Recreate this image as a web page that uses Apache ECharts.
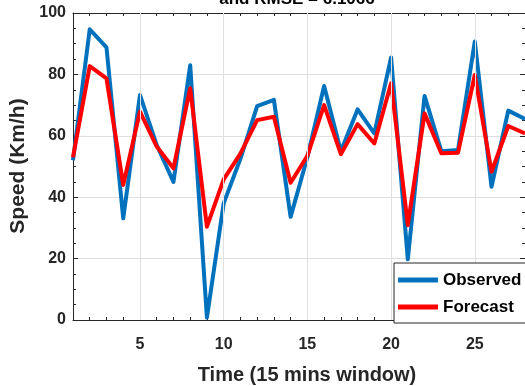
<!DOCTYPE html>
<html>
<head>
<meta charset="utf-8">
<script src="https://cdn.jsdelivr.net/npm/echarts@6/dist/echarts.min.js"></script>
<style>html,body{margin:0;padding:0;background:#fff}#c{width:525px;height:386px}</style>
</head>
<body>
<div id="c"></div>
<script>
const timeSteps = [1,2,3,4,5,6,7,8,9,10,11,12,13,14,15,16,17,18,19,20,21,22,23,24,25,26,27,28];
const observed = [52,94.7,88.8,33.1,73.3,57,45,83,0.8,38,52.5,69.7,71.7,33.6,53,76.2,55,68.6,60.8,85.5,19.8,73,55,55.4,90.7,43.4,68.2,65.5];
const forecast = [53,82.7,78.7,44,67.9,56.5,49.4,75.5,30.4,45.8,54.2,65.1,66.2,44.7,53.5,70,54,63.8,57.5,77.1,30.9,67.3,54.3,54.5,79.8,48.3,63.2,60.8];
const xTickLabels = [5,10,15,20,25];
const yTicks = [0,20,40,60,80,100];

const ink = '#262626';
const gridC = '#dfdfdf';
const font = 'Liberation Sans, Arial, sans-serif';

const chart = echarts.init(document.getElementById('c'), null, {renderer:'canvas'});
const minorX = timeSteps.slice();
function xAx(pos, major){
  return {
    type:'value', min:1, max:28, position:pos,
    axisLine:{show: major, onZero:false, lineStyle:{color:ink, width:1}},
    axisTick:{show:true, inside:true, length: major?5:3, customValues: major? xTickLabels : minorX, lineStyle:{color:ink}},
    axisLabel:{show: major && pos==='bottom', customValues: xTickLabels, margin:17, color:ink, fontSize:16, fontWeight:'bold', fontFamily:font},
    splitLine:{show:false}
  };
}
function yAx(pos){
  return {
    type:'value', min:0, max:100, interval:20, position:pos,
    axisLine:{show:true, onZero:false, lineStyle:{color:ink, width:1}},
    axisTick:{show:true, inside:true, length:5, lineStyle:{color:ink}},
    minorTick:{show:true, splitNumber:4, length:3, lineStyle:{color:ink}},
    axisLabel:{show: pos==='left', margin:7, color:ink, fontSize:16, fontWeight:'bold', fontFamily:font},
    splitLine:{show: pos==='left', lineStyle:{color:gridC, width:1}}
  };
}

chart.setOption({
  animation:false,
  backgroundColor:'#fff',
  grid:{left:73, right:0, top:13, bottom:66, containLabel:false},
  xAxis:[xAx('bottom',true), xAx('bottom',false), xAx('top',true), xAx('top',false)],
  yAxis:[yAx('left'), yAx('right')],
  legend:{
    orient:'vertical', left:394, top:263, z:20, zlevel:0,
    backgroundColor:'#fff', borderColor:ink, borderWidth:1, borderRadius:0,
    padding:[7,20,6,4], itemGap:7, itemWidth:40, itemHeight:5,
    textStyle:{color:'#000', fontSize:17, fontWeight:'bold', fontFamily:font, lineHeight:20},
    data:[{name:'Observed', icon:'rect'},{name:'Forecast', icon:'rect'}]
  },
  series:[
    {name:'xgrid', type:'line', data:[], z:1, silent:true,
     markLine:{silent:true, symbol:['none','none'], label:{show:false}, animation:false,
       lineStyle:{color:gridC, width:1, type:'solid'},
       emphasis:{disabled:true},
       data: xTickLabels.map(v=>({xAxis:v}))}},
    {name:'Observed', type:'line', data: timeSteps.map((t,i)=>[t, observed[i]]), showSymbol:false, symbol:'none',
     lineStyle:{color:'#0072BD', width:4, join:'round'}, itemStyle:{color:'#0072BD'}, z:2},
    {name:'Forecast', type:'line', data: timeSteps.map((t,i)=>[t, forecast[i]]), showSymbol:false, symbol:'none',
     lineStyle:{color:'#FF0000', width:4, join:'round'}, itemStyle:{color:'#FF0000'}, z:3}
  ],
  graphic:[
    {type:'text', x:297, y:-1, style:{text:'and RMSE = 6.1066', fill:'#000', font:'bold 17px '+font, textAlign:'center', textVerticalAlign:'middle'}},
    {type:'text', x:307, y:375, style:{text:'Time (15 mins window)', fill:ink, font:'bold 20px '+font, textAlign:'center', textVerticalAlign:'middle'}},
    {type:'text', x:18, y:166, rotation:Math.PI/2, style:{text:'Speed (Km/h)', fill:ink, font:'bold 21px '+font, textAlign:'center', textVerticalAlign:'middle'}}
  ]
});
</script>
</body>
</html>
